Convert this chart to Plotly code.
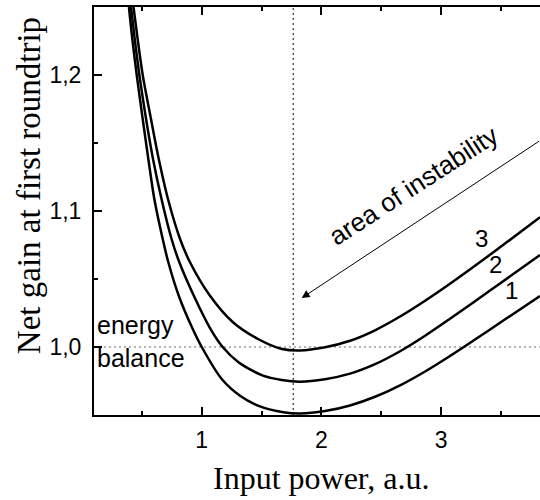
import plotly.graph_objects as go

# Curve data (input power, net gain)
x1 = [0.392, 0.420, 0.457, 0.507, 0.554, 0.604, 0.674, 0.721, 0.808, 0.925, 1.0, 1.167, 1.32, 1.487, 1.682, 1.821,
      2.03, 2.239, 2.448, 2.657, 2.866, 3.074, 3.283, 3.492, 3.826]
y1 = [1.25, 1.2265, 1.2, 1.1676, 1.1382, 1.1088, 1.0794, 1.0623, 1.0377, 1.0132, 1.0, 0.9765, 0.9642, 0.9563, 0.952, 0.9511,
      0.9529, 0.957, 0.9634, 0.9718, 0.982, 0.9934, 1.0055, 1.0178, 1.0375]

x2 = [0.409, 0.44, 0.479, 0.535, 0.593, 0.664, 0.748, 0.813, 0.934, 1.074, 1.175, 1.307, 1.512, 1.668, 1.821,
      2.03, 2.239, 2.448, 2.657, 2.866, 3.074, 3.283, 3.492, 3.826]
y2 = [1.25, 1.2265, 1.2, 1.1676, 1.1382, 1.1088, 1.0794, 1.0623, 1.0377, 1.0132, 1.0, 0.9888, 0.9789, 0.9757, 0.9745,
      0.9763, 0.9804, 0.9874, 0.9969, 1.0083, 1.0208, 1.0337, 1.0467, 1.0676]

x3 = [0.43, 0.4645, 0.507, 0.576, 0.641, 0.718, 0.819, 0.902, 1.069, 1.261, 1.47, 1.671, 1.821,
      2.03, 2.239, 2.448, 2.657, 2.866, 3.074, 3.283, 3.492, 3.826]
y3 = [1.25, 1.2265, 1.2, 1.1676, 1.1382, 1.1088, 1.0794, 1.0623, 1.0377, 1.0182, 1.0059, 0.9985, 0.9974,
      0.9998, 1.0046, 1.0123, 1.0224, 1.034, 1.0465, 1.0597, 1.0733, 1.0954]

curve_labels = ["1", "2", "3"]
label_x = [3.589, 3.458, 3.339]
label_y = [1.0414, 1.061, 1.0799]

balance_level = 1.0
min_power = 1.765

arrow_tip = (1.835, 1.036)
arrow_tail = (3.83, 1.152)
instability_pos = (2.765, 1.1184)

x_range = [0.1, 3.826]
y_range = [0.95, 1.25]
x_ticks = [1, 2, 3]
y_ticks = [1.0, 1.1, 1.2]

fig = go.Figure()

# reference lines
fig.add_trace(go.Scatter(x=[x_range[0], x_range[1]], y=[balance_level, balance_level], mode="lines",
                         line=dict(color="#9a9a9a", width=1.5, dash="2px,3px"), showlegend=False, hoverinfo="skip"))
fig.add_trace(go.Scatter(x=[min_power, min_power], y=[y_range[0], y_range[1]], mode="lines",
                         line=dict(color="#555555", width=1.5, dash="2px,3px"), showlegend=False, hoverinfo="skip"))

for xs, ys in [(x1, y1), (x2, y2), (x3, y3)]:
    fig.add_trace(go.Scatter(x=xs, y=ys, mode="lines",
                             line=dict(color="black", width=2.5, shape="spline", smoothing=0.8),
                             showlegend=False))

sans = "Arial, Liberation Sans, sans-serif"
serif = "Times New Roman, Liberation Serif, serif"

for t, lx, ly in zip(curve_labels, label_x, label_y):
    fig.add_annotation(x=lx, y=ly, text=t, showarrow=False, font=dict(family=sans, size=24, color="black"))

fig.add_annotation(x=arrow_tip[0], y=arrow_tip[1], ax=arrow_tail[0], ay=arrow_tail[1],
                   axref="x", ayref="y", text="", showarrow=True,
                   arrowhead=2, arrowsize=1.6, arrowwidth=1, arrowcolor="black")

fig.add_annotation(x=instability_pos[0], y=instability_pos[1], text="area of instability", textangle=-33,
                   showarrow=False, font=dict(family=sans, size=26, color="black"))

fig.add_annotation(x=0.109, y=1.004, text="energy<br>balance", showarrow=False, xanchor="left", align="left",
                   font=dict(family=sans, size=25, color="black"))

fig.add_annotation(x=2.0, xref="x", y=-0.1544, yref="paper", text="Input power, a.u.", showarrow=False,
                   xanchor="center", yanchor="middle", font=dict(family=serif, size=32, color="black"))
fig.add_annotation(x=-0.1457, xref="paper", y=0.561, yref="paper", text="Net gain at first roundtrip",
                   textangle=-90, showarrow=False, xanchor="center", yanchor="middle",
                   font=dict(family=serif, size=33, color="black"))

fig.update_xaxes(range=x_range, tickvals=x_ticks, ticks="inside", ticklen=8, tickwidth=1.5, tickcolor="black",
                 showline=True, linewidth=2, linecolor="black", mirror="ticks", showgrid=False, zeroline=False,
                 tickfont=dict(family=sans, size=23, color="black"), ticklabelstandoff=3,
                 minor=dict(ticks="inside", ticklen=4, tickwidth=1.5, tickcolor="black", dtick=0.5, tick0=0, showgrid=False))
fig.update_yaxes(range=y_range, tickvals=y_ticks, tickformat=".1f", ticks="inside", ticklen=8, tickwidth=1.5,
                 tickcolor="black", showline=True, linewidth=2, linecolor="black", mirror=False, showgrid=False,
                 zeroline=False, tickfont=dict(family=sans, size=23, color="black"), ticklabelstandoff=6,
                 minor=dict(ticks="inside", ticklen=4, tickwidth=1.5, tickcolor="black", dtick=0.05, tick0=0, showgrid=False))

fig.update_layout(width=540, height=500, margin=dict(l=94, r=0, t=7, b=85), separators=",.",
                  plot_bgcolor="white", paper_bgcolor="white", showlegend=False)

fig.write_html("out.html")
